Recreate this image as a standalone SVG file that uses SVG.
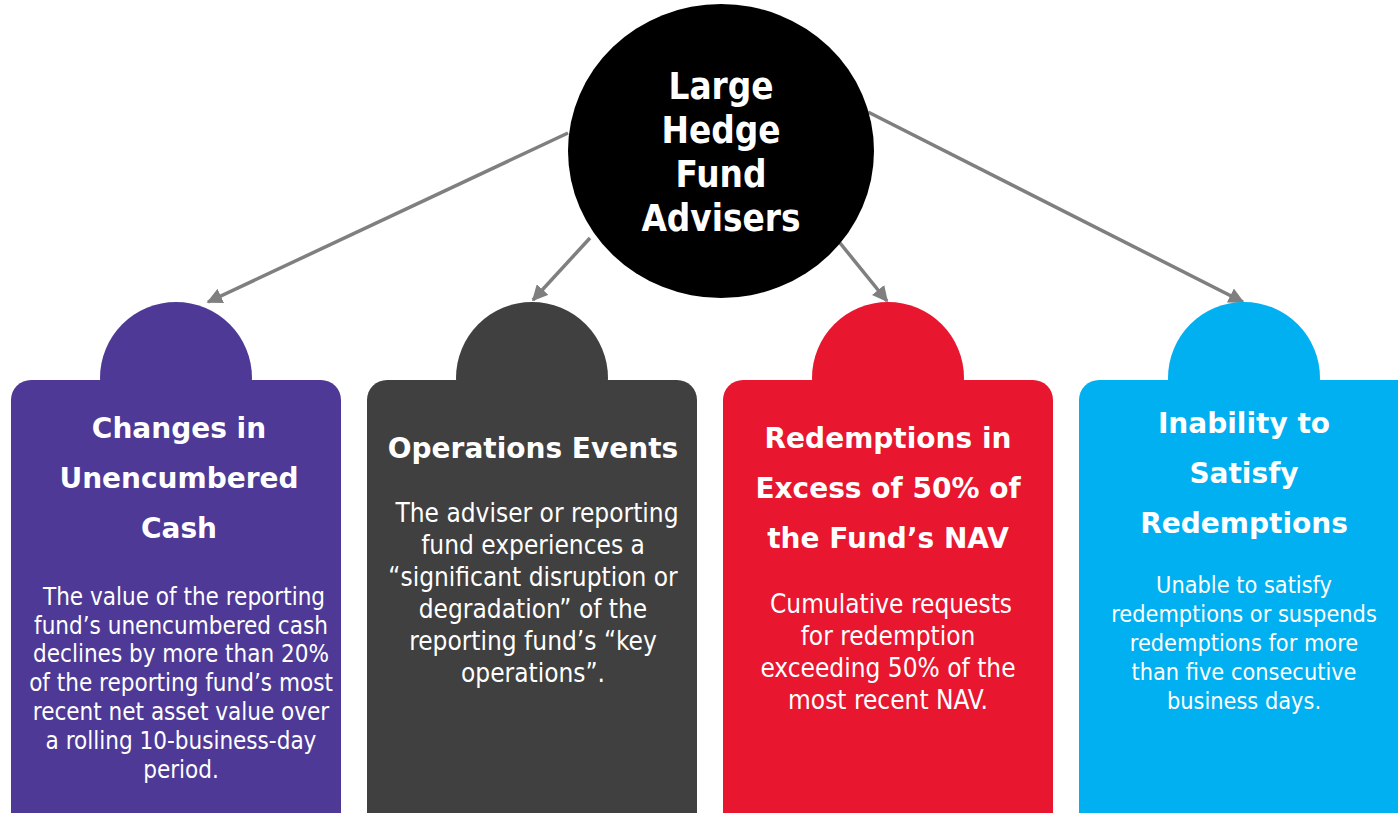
<svg xmlns="http://www.w3.org/2000/svg" width="1398" height="813" viewBox="0 0 1398 813">
<style>
.t{font-family:"DejaVu Sans",sans-serif;font-weight:bold;fill:#fff;text-anchor:middle;font-size:28px}
.b{font-family:"DejaVu Sans Condensed","DejaVu Sans",sans-serif;fill:#fff;text-anchor:middle;font-size:24px}
.b2{font-size:26px}
.b4{font-size:23.3px}
.c{font-family:"DejaVu Sans Condensed","DejaVu Sans",sans-serif;font-weight:bold;fill:#fff;text-anchor:middle;font-size:36.5px}
.ln{stroke:#7f7f7f;stroke-width:3.5;fill:none;marker-end:url(#ah)}
</style>
<defs>
<marker id="ah" viewBox="0 0 10 10" refX="9" refY="5" markerWidth="4.5" markerHeight="4.5" orient="auto" markerUnits="strokeWidth">
<path d="M0,0 L10,5 L0,10 Z" fill="#7f7f7f"/>
</marker>
</defs>
<rect width="1398" height="813" fill="#fff"/>
<g id="connectors">
<line class="ln" x1="568" y1="133" x2="208" y2="302"/>
<line class="ln" x1="590" y1="238" x2="533" y2="300"/>
<line class="ln" x1="840" y1="243" x2="887" y2="301"/>
<line class="ln" x1="868" y1="112" x2="1243" y2="302"/>
</g>
<g id="hub">
<ellipse cx="721" cy="151" rx="153" ry="147" fill="#000"/>
<text class="c" x="721" y="99">Large</text>
<text class="c" x="721" y="143">Hedge</text>
<text class="c" x="721" y="187">Fund</text>
<text class="c" x="721" y="231">Advisers</text>
</g>
<g id="card1">
<circle cx="176" cy="378" r="76" fill="#4E3A96"/>
<rect x="11" y="380" width="330" height="460" rx="20" fill="#4E3A96"/>
<text class="t" x="179" y="438">Changes in</text>
<text class="t" x="179" y="488">Unencumbered</text>
<text class="t" x="179" y="538">Cash</text>
<text class="b" x="184" y="605">The value of the reporting</text>
<text class="b" x="181" y="634">fund’s unencumbered cash</text>
<text class="b" x="181" y="662">declines by more than 20%</text>
<text class="b" x="181" y="691">of the reporting fund’s most</text>
<text class="b" x="181" y="720">recent net asset value over</text>
<text class="b" x="181" y="749">a rolling 10-business-day</text>
<text class="b" x="181" y="778">period.</text>
</g>
<g id="card2">
<circle cx="532" cy="378" r="76" fill="#404040"/>
<rect x="367" y="380" width="330" height="460" rx="20" fill="#404040"/>
<text class="t" x="533" y="458">Operations Events</text>
<text class="b b2" x="537" y="522">The adviser or reporting</text>
<text class="b b2" x="533" y="554">fund experiences a</text>
<text class="b b2" x="533" y="586">“significant disruption or</text>
<text class="b b2" x="533" y="618">degradation” of the</text>
<text class="b b2" x="533" y="650">reporting fund’s “key</text>
<text class="b b2" x="533" y="682">operations”.</text>
</g>
<g id="card3">
<circle cx="888" cy="378" r="76" fill="#E8162F"/>
<rect x="723" y="380" width="330" height="460" rx="20" fill="#E8162F"/>
<text class="t" x="888" y="448">Redemptions in</text>
<text class="t" x="888" y="498">Excess of 50% of</text>
<text class="t" x="888" y="548">the Fund’s NAV</text>
<text class="b b2" x="891" y="613">Cumulative requests</text>
<text class="b b2" x="888" y="645">for redemption</text>
<text class="b b2" x="888" y="677">exceeding 50% of the</text>
<text class="b b2" x="888" y="709">most recent NAV.</text>
</g>
<g id="card4">
<circle cx="1244" cy="378" r="76" fill="#00B0F0"/>
<rect x="1079" y="380" width="340" height="460" rx="20" fill="#00B0F0"/>
<text class="t" x="1244" y="433">Inability to</text>
<text class="t" x="1244" y="483">Satisfy</text>
<text class="t" x="1244" y="533">Redemptions</text>
<text class="b b4" x="1244" y="593">Unable to satisfy</text>
<text class="b b4" x="1244" y="622">redemptions or suspends</text>
<text class="b b4" x="1244" y="651">redemptions for more</text>
<text class="b b4" x="1244" y="680">than five consecutive</text>
<text class="b b4" x="1244" y="709">business days.</text>
</g>
</svg>
